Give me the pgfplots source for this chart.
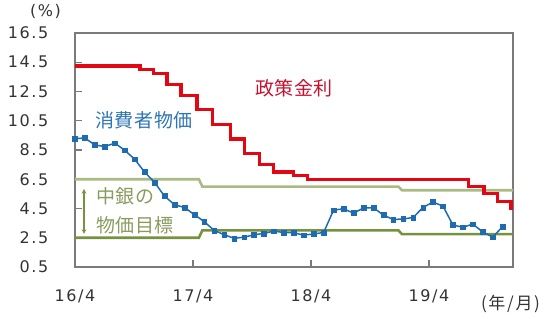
\documentclass[border=0pt]{standalone}
\usepackage{fontspec}
\usepackage{pgfplots}
\pgfplotsset{compat=1.18}
\setmainfont{DejaVu Sans}
\newfontfamily\tickfont{DejaVu Sans}[LetterSpace=10]
\newfontfamily\jp{Noto Sans CJK JP}[LetterSpace=10]
\newfontfamily\jpls{Noto Sans CJK JP}[LetterSpace=3]
\definecolor{polred}{HTML}{E30613}
\definecolor{polredtxt}{HTML}{C8102E}
\definecolor{cpiblue}{HTML}{1F6BB0}
\definecolor{cpitxt}{HTML}{2E75B6}
\definecolor{tgtlight}{HTML}{A9BA84}
\definecolor{tgtdark}{HTML}{77923C}
\definecolor{tgttxt}{HTML}{8A9B5E}
\definecolor{axgray}{HTML}{7A7A7A}
\definecolor{txtgray}{HTML}{333333}
\begin{document}
\begin{tikzpicture}
\path[use as bounding box] (-75pt,-52pt) rectangle (475pt,267pt);
\begin{axis}[
  scale only axis, width=438pt, height=234pt,
  xmin=0, xmax=44.55, ymin=0.5, ymax=16.5,
  enlargelimits=false,
  axis line style={axgray, line width=1.4pt},
  tick align=inside, major tick length=7pt,
  tick style={axgray, line width=1.2pt},
  xtick pos=bottom, ytick pos=left,
  xtick={0,12,24,36}, xticklabels={16/4,17/4,18/4,19/4},
  ytick={0.5,2.5,4.5,6.5,8.5,10.5,12.5,14.5,16.5},
  yticklabels={0.5,2.5,4.5,6.5,8.5,10.5,12.5,14.5,16.5},
  xticklabel style={font=\tickfont\fontsize{16}{18}\selectfont, text=txtgray, anchor=base, inner sep=0pt, yshift=-34.5pt},
  yticklabel style={font=\tickfont\fontsize{16}{18}\selectfont, text=txtgray, anchor=east, inner sep=0pt, xshift=-26.5pt},
  clip=true,
]
% target band upper
\addplot[tgtlight, line width=2.6pt] coordinates {
 (0,6.5) (12.6,6.5) (12.95,6.0) (32.9,6.0) (33.25,5.75) (44.55,5.75)};
% target band lower
\addplot[tgtdark, line width=2.6pt] coordinates {
 (0,2.5) (12.6,2.5) (12.95,3.0) (32.9,3.0) (33.25,2.75) (44.55,2.75)};
% policy rate
\addplot[polred, line width=3.2pt, const plot mark left] coordinates {
 (0,14.25) (6.61,14.00) (8.0,13.75) (9.35,13.00) (10.79,12.25) (12.4,11.25)
 (14.0,10.25) (15.84,9.25) (17.2,8.25) (18.8,7.50) (20.19,7.00) (22.25,6.75)
 (23.68,6.50) (40.0,6.00) (41.6,5.50) (42.97,5.00) (44.35,4.50) (44.6,4.50)};
% CPI
\addplot[cpiblue, line width=1.5pt, mark=square*, mark size=2.4pt, mark options={fill=cpiblue, draw=cpiblue, line width=0.4pt}] coordinates {
 (0,9.28) (1.01,9.32) (2.02,8.84) (3.03,8.74) (4.05,8.97) (5.06,8.48) (6.07,7.87)
 (7.08,6.99) (8.09,6.29) (9.10,5.35) (10.12,4.76) (11.13,4.57) (12.14,4.08)
 (13.15,3.60) (14.16,3.00) (15.17,2.71) (16.19,2.46) (17.20,2.54) (18.21,2.70)
 (19.22,2.80) (20.23,2.95) (21.24,2.86) (22.26,2.84) (23.27,2.68) (24.28,2.76)
 (25.29,2.86) (26.30,4.39) (27.31,4.48) (28.33,4.19) (29.34,4.53) (30.35,4.56)
 (31.36,4.05) (32.37,3.75) (33.38,3.78) (34.40,3.89) (35.41,4.58) (36.42,4.94)
 (37.43,4.66) (38.44,3.37) (39.45,3.22) (40.47,3.43) (41.48,2.89) (42.49,2.54)
 (43.5,3.27)};
\end{axis}
\node[font=\tickfont\fontsize{16}{18}\selectfont, text=txtgray] at (-29.5pt,255.5pt) {(\%)};
\node[font=\jp\fontsize{17}{18}\selectfont, text=txtgray] at (435.5pt,-37pt) {(年/月)};
\node[font=\jpls\fontsize{19}{20}\selectfont, text=polredtxt] at (219pt,178.5pt) {政策金利};
\node[font=\jpls\fontsize{19}{20}\selectfont, text=cpitxt] at (69pt,147pt) {消費者物価};
\node[font=\jpls\fontsize{19}{20}\selectfont, text=tgttxt, anchor=west, inner sep=0pt] at (21pt,71pt) {中銀の};
\node[font=\jpls\fontsize{19}{20}\selectfont, text=tgttxt, anchor=west, inner sep=0pt] at (21pt,42pt) {物価目標};
\draw[<->, >=stealth, tgtdark, line width=1.1pt] (9pt,78pt) -- (9pt,33pt);
\end{tikzpicture}
\end{document}
